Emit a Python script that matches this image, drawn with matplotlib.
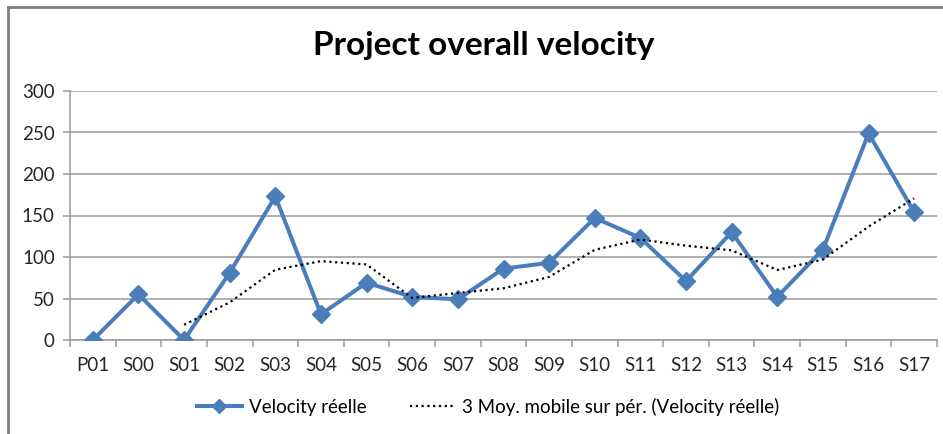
import matplotlib.pyplot as plt
from matplotlib.lines import Line2D
import pandas as pd

plt.rcParams['font.family'] = ['Lato', 'DejaVu Sans']

sprints = ['P01', 'S00', 'S01', 'S02', 'S03', 'S04', 'S05', 'S06', 'S07', 'S08',
           'S09', 'S10', 'S11', 'S12', 'S13', 'S14', 'S15', 'S16', 'S17']
velocity = [0, 55, 0, 81, 173, 31, 69, 52, 49, 86,
            93, 147, 123, 71, 130, 52, 109, 249, 154]

# 3 period moving average, like the Excel trendline
moving_avg = pd.Series(velocity).rolling(3).mean()

W, H = 943, 434
fig = plt.figure(figsize=(W / 100, H / 100), dpi=100)
ax = fig.add_axes([70 / W, (H - 340) / H, (937 - 70) / W, (340 - 91) / H])

x = list(range(len(sprints)))
blue = '#4a7ebb'
ax.plot(x, velocity, color=blue, lw=2.9, marker='D', markersize=9.5,
        label='Velocity réelle', zorder=3)
ax.plot(x, moving_avg, color='black', lw=1.6, linestyle=(0, (1, 1.6)),
        label='3 Moy. mobile sur pér. (Velocity réelle)', zorder=4)

ax.set_xlim(-0.5, len(sprints) - 0.5)
ax.set_ylim(0, 300)
ax.set_yticks(range(0, 301, 50))
ax.set_xticks(x)
ax.set_xticklabels(sprints)
ax.set_xticks([i - 0.5 for i in range(len(sprints) + 1)], minor=True)

grid_c = '#9a9a9a'
ax.grid(axis='y', color=grid_c, lw=1.1)
ax.set_axisbelow(True)
for s in ['top', 'right']:
    ax.spines[s].set_visible(False)
ax.spines['left'].set_color(grid_c)
ax.spines['bottom'].set_color(grid_c)
ax.spines['left'].set_linewidth(1.1)
ax.spines['bottom'].set_linewidth(1.1)
ax.tick_params(axis='x', which='major', length=0, pad=12, labelsize=13.5, labelcolor='#262626')
ax.tick_params(axis='x', which='minor', length=5, color=grid_c, width=1.1)
ax.tick_params(axis='y', length=5, color=grid_c, width=1.1, pad=6, labelsize=13.5,
               labelcolor='#262626')

fig.text(484 / W, 1 - 46 / H, 'Project overall velocity', ha='center', va='center',
         fontsize=24, fontweight='bold')

fig.legend(loc='center', bbox_to_anchor=(488 / W, 1 - 407 / H), ncol=2, frameon=False,
           fontsize=13.5, handlelength=2.4, columnspacing=2.3, handletextpad=0.4,
           markerscale=0.7)

# chart border (only top and left are visible in the crop)
bc = '#7f7f7f'
fig.add_artist(Line2D([8 / W, 8 / W], [0, 1 - 7 / H], color=bc, lw=2))
fig.add_artist(Line2D([8 / W, 1], [1 - 7 / H, 1 - 7 / H], color=bc, lw=2))

fig.savefig('out.png', dpi=100)
